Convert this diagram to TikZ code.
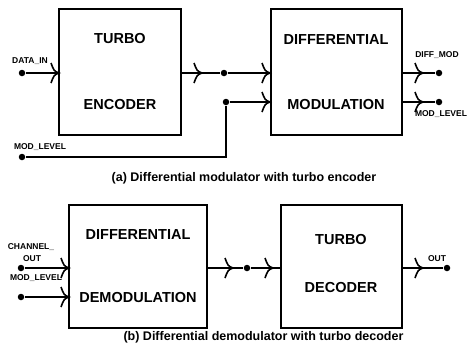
\documentclass[tikz,border=0pt]{standalone}
\usepackage{fontspec}
\setmainfont{Liberation Sans}
\begin{document}
\begin{tikzpicture}[x=1pt,y=-1pt, line width=1.6pt,
 box/.style={draw, line width=1.8pt, inner sep=0pt},
 btext/.style={font=\fontsize{14.5}{16}\selectfont\bfseries, inner sep=0pt},
 lbl/.style={font=\fontsize{8.5}{9}\selectfont\bfseries, inner sep=0pt},
 captext/.style={font=\fontsize{12.5}{14}\selectfont\bfseries, inner sep=0pt},
 dot/.style={circle, fill, inner sep=0pt, minimum size=6.5pt},
 chev/.pic={\draw[line width=1.6pt] (-8,-10) .. controls (-5,-2) .. (0,0) .. controls (-5,2) .. (-8,10);}
]
\useasboundingbox (0,0) rectangle (467,351);
% boxes
\node[box, minimum width=122pt, minimum height=126pt] (b1) at (120,72) {};
\node[box, minimum width=131pt, minimum height=126pt] (b2) at (336.5,72) {};
\node[box, minimum width=138pt, minimum height=123pt] (b3) at (138,266.5) {};
\node[box, minimum width=121pt, minimum height=123pt] (b4) at (341.5,266.5) {};
% box texts
\node[btext] (t1a) at (120,39) {TURBO};
\node[btext] (t1b) at (120,105) {ENCODER};
\node[btext] (t2a) at (336,40) {DIFFERENTIAL};
\node[btext] (t2b) at (336,105) {MODULATION};
\node[btext] (t3a) at (138,235) {DIFFERENTIAL};
\node[btext] (t3b) at (138,298) {DEMODULATION};
\node[btext] (t4a) at (341,240) {TURBO};
\node[btext] (t4b) at (341,288) {DECODER};
% dots
\node[dot] (din) at (22,73) {};
\node[dot] (mlin) at (22,157) {};
\node[dot] (j1) at (224,73) {};
\node[dot] (j2) at (226,102) {};
\node[dot] (dmo) at (439,73) {};
\node[dot] (mlo) at (439,102) {};
\node[dot] (cho) at (21,268) {};
\node[dot] (mlb) at (21,297) {};
\node[dot] (j3) at (247,268) {};
\node[dot] (out) at (447,268) {};
% connectors
\draw (din) -- (din -| b1.west);
\draw (b1.east |- j1) -- (j1) -- (j1 -| b2.west);
\draw (mlin) -| (j2) -- (j2 -| b2.west);
\draw (b2.east |- dmo) -- (dmo);
\draw (b2.east |- mlo) -- (mlo);
\draw (cho) -- (cho -| b3.west);
\draw (mlb) -- (mlb -| b3.west);
\draw (b3.east |- j3) -- (j3) -- (j3 -| b4.west);
\draw (b4.east |- out) -- (out);
% chevrons
\pic at (59,73) {chev};
\pic at (202,73) {chev};
\pic at (270,73) {chev};
\pic at (270,102) {chev};
\pic at (423,73) {chev};
\pic at (423,102) {chev};
\pic at (69,268) {chev};
\pic at (69,297) {chev};
\pic at (233,268) {chev};
\pic at (273,268) {chev};
\pic at (423,268) {chev};
% labels
\node[lbl] (l1) at (30,61.5) {DATA\_IN};
\node[lbl] (l2) at (40,147) {MOD\_LEVEL};
\node[lbl] (l3) at (437,55) {DIFF\_MOD};
\node[lbl] (l4) at (441,114) {MOD\_LEVEL};
\node[lbl] (l5) at (31,247) {CHANNEL\_};
\node[lbl] (l6) at (32,259) {OUT};
\node[lbl] (l7) at (36,278) {MOD\_LEVEL};
\node[lbl] (l8) at (437,259) {OUT};
% captions
\node[captext, anchor=base] (ca) at (244,181) {(a) Differential modulator with turbo encoder};
\node[captext, anchor=base] (cb) at (263.5,340) {(b) Differential demodulator with turbo decoder};
\end{tikzpicture}
\end{document}
